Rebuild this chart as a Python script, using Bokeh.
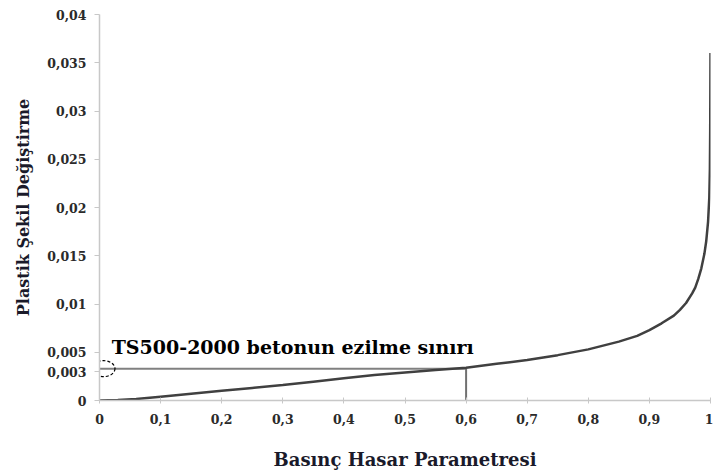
from bokeh.plotting import figure
from bokeh.models import FixedTicker, Range1d, Label
from bokeh.embed import file_html
from bokeh.resources import INLINE

# Data
damage = [0.0, 0.03, 0.06, 0.1, 0.15, 0.2, 0.25, 0.3, 0.35, 0.4, 0.45, 0.5, 0.55,
          0.6, 0.65, 0.7, 0.75, 0.8, 0.85, 0.88, 0.9, 0.92, 0.94, 0.95, 0.96,
          0.97, 0.975, 0.98, 0.985, 0.99, 0.993, 0.996, 0.998, 0.999, 0.9995, 1.0]
plastic_strain = [0.0, 0.00005, 0.00015, 0.0004, 0.0007, 0.001, 0.0013, 0.0016,
                  0.00195, 0.0023, 0.00265, 0.0029, 0.00315, 0.0034, 0.0038, 0.0042,
                  0.0047, 0.0053, 0.0061, 0.0067, 0.0073, 0.0080, 0.0088, 0.0094,
                  0.0101, 0.0111, 0.0117, 0.0126, 0.0137, 0.0152, 0.0165, 0.0185,
                  0.0210, 0.0240, 0.0280, 0.0360]

limit_damage = 0.6
limit_strain = 0.0033

x_ticks = [0, 0.1, 0.2, 0.3, 0.4, 0.5, 0.6, 0.7, 0.8, 0.9, 1.0]
x_tick_labels = ["0", "0,1", "0,2", "0,3", "0,4", "0,5", "0,6", "0,7", "0,8", "0,9", "1"]
y_ticks = [0, 0.003, 0.005, 0.01, 0.015, 0.02, 0.025, 0.03, 0.035, 0.04]
y_tick_labels = ["0", "0,003", "0,005", "0,01", "0,015", "0,02", "0,025", "0,03", "0,035", "0,04"]

annotation_text = "TS500-2000 betonun ezilme sınırı"
x_title = "Basınç Hasar Parametresi"
y_title = "Plastik Şekil Değiştirme"

p = figure(width=713, height=475, output_backend="svg", toolbar_location=None,
           x_range=Range1d(0, 1.0), y_range=Range1d(0, 0.04),
           min_border_left=99, min_border_right=3, min_border_top=14,
           min_border_bottom=75)
p.outline_line_color = None
p.grid.visible = False
p.background_fill_color = "white"

# limit lines
p.line([0, limit_damage], [limit_strain, limit_strain], line_color="#808080", line_width=2)
p.line([limit_damage, limit_damage], [0, limit_strain], line_color="#707070", line_width=2)

# main curve
p.line(damage, plastic_strain, line_color="#404040", line_width=2.5)

# dashed ellipse marking the limit
p.ellipse(x=[0.0065], y=[limit_strain], width=23, height=16,
          width_units="screen", height_units="screen",
          fill_color=None, line_color="black", line_width=1.2, line_dash="3 2")

font = "DejaVu Serif"

lab = Label(x=0.02, y=0.00445, text=annotation_text, text_font=font,
            text_font_style="bold", text_font_size="19px", text_color="black",
            text_baseline="bottom")
p.add_layout(lab)

p.xaxis.ticker = FixedTicker(ticks=x_ticks)
p.xaxis.major_label_overrides = {t: l for t, l in zip(x_ticks, x_tick_labels)}
p.yaxis.ticker = FixedTicker(ticks=y_ticks)
p.yaxis.major_label_overrides = {t: l for t, l in zip(y_ticks, y_tick_labels)}

for ax in (p.xaxis, p.yaxis):
    ax.axis_line_color = "#c8c8c8"
    ax.axis_line_width = 1.5
    ax.major_tick_line_color = "#c8c8c8"
    ax.minor_tick_line_color = None
    ax.major_label_text_font = font
    ax.major_label_text_font_style = "bold"
    ax.major_label_text_font_size = "12.5px"
    ax.major_label_text_color = "#2a2a2a"
    ax.axis_label_text_font = font
    ax.axis_label_text_font_style = "bold"
    ax.axis_label_text_color = "#1a1a2a"

p.xaxis.major_tick_in = 3
p.xaxis.major_tick_out = 3
p.xaxis.major_label_standoff = 10
p.xaxis.axis_label = x_title
p.xaxis.axis_label_text_font_size = "18px"
p.xaxis.axis_label_standoff = 22

p.yaxis.major_tick_in = 0
p.yaxis.major_tick_out = 5
p.yaxis.major_label_standoff = 8
p.yaxis.axis_label = y_title
p.yaxis.axis_label_text_font_size = "16px"
p.yaxis.axis_label_standoff = 11

open("out.html", "w").write(file_html(p, INLINE))
